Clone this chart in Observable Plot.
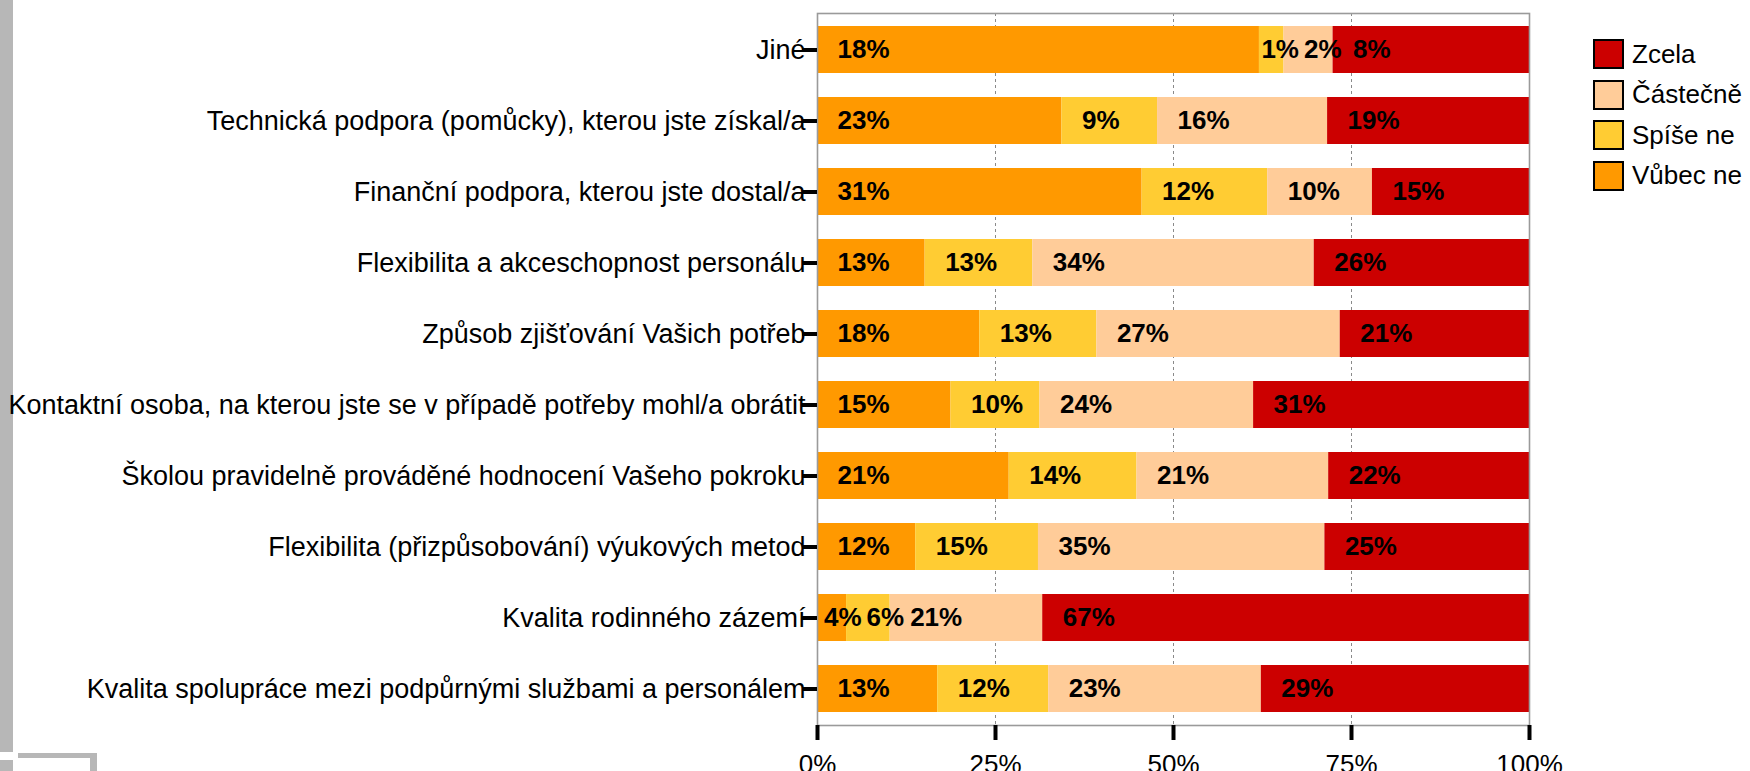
<!DOCTYPE html>
<html>
<head>
<meta charset="utf-8">
<script src="https://cdn.jsdelivr.net/npm/d3@7"></script>
<script src="https://cdn.jsdelivr.net/npm/@observablehq/plot@0.6"></script>
<style>
  html, body { margin: 0; padding: 0; background: white; overflow: hidden; }
  #wrap { position: relative; width: 1750px; height: 771px; overflow: hidden; font-family: "Liberation Sans", Arial, sans-serif; }
  .deco { position: absolute; background: #b7b7b7; }
  #legend { position: absolute; left: 1593px; top: 34px; }
  .li { display: flex; align-items: center; height: 40.5px; white-space: nowrap; }
  .sw { width: 27px; height: 26px; border: 2px solid #000; box-sizing: content-box; margin-right: 8px; }
  .lt { font-size: 26px; color: #000; }
</style>
</head>
<body>
<div id="wrap"></div>
<script>
// Questions, top to bottom
const questions = [
  "Jiné",
  "Technická podpora (pomůcky), kterou jste získal/a",
  "Finanční podpora, kterou jste dostal/a",
  "Flexibilita a akceschopnost personálu",
  "Způsob zjišťování Vašich potřeb",
  "Kontaktní osoba, na kterou jste se v případě potřeby mohl/a obrátit",
  "Školou pravidelně prováděné hodnocení Vašeho pokroku",
  "Flexibilita (přizpůsobování) výukových metod",
  "Kvalita rodinného zázemí",
  "Kvalita spolupráce mezi podpůrnými službami a personálem"
];
// Response categories in stacking order (left to right)
const categories = ["Vůbec ne", "Spíše ne", "Částečně", "Zcela"];
const colors = ["#FF9900", "#FFCC33", "#FFCC99", "#CC0000"];
// Legend order (top to bottom)
const legendOrder = ["Zcela", "Částečně", "Spíše ne", "Vůbec ne"];

// Values (%) per category, aligned with questions
const vubecNe  = [18, 23, 31, 13, 18, 15, 21, 12, 4, 13];
const spiseNe  = [1, 9, 12, 13, 13, 10, 14, 15, 6, 12];
const castecne = [2, 16, 10, 34, 27, 24, 21, 35, 21, 23];
const zcela    = [8, 19, 15, 26, 21, 31, 22, 25, 67, 29];

const xTicks = [0, 0.25, 0.5, 0.75, 1];
const gridTicks = [0.25, 0.5, 0.75];

const W = 1750, H = 771, ML = 817, MR = 221, MT = 13, MB = 46;
const innerW = W - ML - MR;
const labelFontSize = 26;
const font = "'Liberation Sans', Arial, sans-serif";

const series = [vubecNe, spiseNe, castecne, zcela];
const rows = [];
questions.forEach((q, i) => {
  categories.forEach((c, j) => rows.push({q, cat: c, value: series[j][i]}));
});

// label placement: start of segment + fixed pixel offset, nudged left on collision
const ctx = document.createElement("canvas").getContext("2d");
ctx.font = `bold ${labelFontSize}px ${font}`;
const labels = [];
questions.forEach((q, i) => {
  const total = d3.sum(series, s => s[i]);
  let cum = 0;
  const its = series.map((s, j) => {
    const start = cum / total;
    cum += s[i];
    const text = s[i] + "%";
    return {q, text, x: start + 20 / innerW, w: ctx.measureText(text).width / innerW};
  });
  for (let k = its.length - 2; k >= 0; k--) {
    const over = its[k].x + its[k].w + 5 / innerW - its[k + 1].x;
    if (over > 0) its[k].x -= over;
  }
  labels.push(...its);
});

const chart = Plot.plot({
  width: W,
  height: H,
  marginLeft: ML,
  marginRight: MR,
  marginTop: MT,
  marginBottom: MB,
  style: {fontFamily: font, background: "transparent", overflow: "visible"},
  x: {domain: [0, 1], axis: null, label: null},
  y: {domain: questions, paddingInner: 0.34, paddingOuter: 0.17, axis: null, label: null},
  color: {domain: categories, range: colors},
  marks: [
    Plot.gridX(gridTicks, {stroke: "#8a8a8a", strokeOpacity: 1, strokeDasharray: "3,3", strokeWidth: 1}),
    Plot.barX(rows, Plot.stackX({x: "value", y: "q", fill: "cat", offset: "normalize", order: categories})),
    Plot.frame({stroke: "#9a9a9a", strokeWidth: 1.6}),
    Plot.text(labels, {x: "x", y: "q", text: "text", textAnchor: "start", fontWeight: "bold", fontSize: labelFontSize, fill: "#000"}),
    Plot.axisY({label: null, tickSize: 15, tickPadding: -3, strokeWidth: 4, stroke: "#000", fontSize: 27, fill: "#000", textAnchor: "end"}),
    Plot.axisX(xTicks, {label: null, tickSize: 15, tickPadding: 14, strokeWidth: 4, stroke: "#000", fontSize: 26, fill: "#000", tickFormat: d3.format(".0%")})
  ]
});

const wrap = document.getElementById("wrap");
// decorative slide elements
[[0, 0, 13, 752], [18, 753, 79, 5], [90, 753, 7, 18], [0, 760, 13, 11]].forEach(([l, t, w, h]) => {
  const d = document.createElement("div");
  d.className = "deco";
  d.style.cssText = `left:${l}px;top:${t}px;width:${w}px;height:${h}px`;
  wrap.appendChild(d);
});
chart.style.position = "absolute";
chart.style.left = "0";
chart.style.top = "0";
wrap.appendChild(chart);

// legend
const legend = document.createElement("div");
legend.id = "legend";
legendOrder.forEach(c => {
  const li = document.createElement("div");
  li.className = "li";
  const sw = document.createElement("div");
  sw.className = "sw";
  sw.style.background = colors[categories.indexOf(c)];
  const lt = document.createElement("span");
  lt.className = "lt";
  lt.textContent = c;
  li.appendChild(sw);
  li.appendChild(lt);
  legend.appendChild(li);
});
wrap.appendChild(legend);
</script>
</body>
</html>
